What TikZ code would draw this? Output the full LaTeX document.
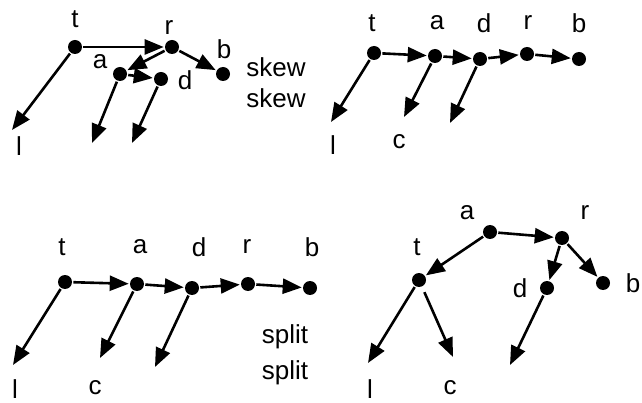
\documentclass[tikz,border=0pt]{standalone}
\usepackage{fontspec}
\setmainfont{Liberation Sans}
\usetikzlibrary{arrows.meta}
\tikzset{
    dot/.style={circle, fill=black, inner sep=0pt, minimum size=14pt},
    lbl/.style={inner sep=0pt, font=\fontsize{26}{30}\selectfont}
}
\begin{document}
\begin{tikzpicture}[x=1pt, y=-1pt, line width=2.6pt, >={Triangle[length=19pt,width=15pt]}]
        \useasboundingbox (0,0) rectangle (642,403);

        % skew (top left)
        \draw (75,47) node[dot](t1){};
        \draw (172,47) node[dot](r1){};
        \draw (120,74) node[dot](a1){};
        \draw (161,79) node[dot](d1){};
        \draw (223,74) node[dot](b1){};
        \draw (75,19) node[lbl](lt1){t};
        \draw (169,28) node[lbl](lr1){r};
        \draw (100,62) node[lbl](la1){a};
        \draw (185,80) node[lbl](ld1){d};
        \draw (224,49) node[lbl](lb1){b};
        \draw (19,146) node[lbl](ll1){l};
        \draw (276,67) node[lbl](sk1){skew};
        \draw (276,98) node[lbl](sk2){skew};
        \coordinate (e11) at (12,130);
        \coordinate (e12) at (92,143);
        \coordinate (e13) at (132,143);

        \draw[->] (t1) to (r1);
        \draw[->] (r1) to (a1);
        \draw[->] (a1) to (d1);
        \draw[->] (r1) to (b1);
        \draw[->] (t1) to (e11);
        \draw[->] (a1) to (e12);
        \draw[->] (d1) to (e13);

        % chain (top right)
        \draw (374,53) node[dot](t2){};
        \draw (435,56) node[dot](a2){};
        \draw (480,59) node[dot](d2){};
        \draw (527,54) node[dot](r2){};
        \draw (579,59) node[dot](b2){};
        \draw (372,23) node[lbl](lt2){t};
        \draw (437,23) node[lbl](la2){a};
        \draw (484,23) node[lbl](ld2){d};
        \draw (528,23) node[lbl](lr2){r};
        \draw (579,23) node[lbl](lb2){b};
        \draw (333,145) node[lbl](ll2){l};
        \draw (399,142) node[lbl](lc2){c};
        \coordinate (e21) at (331,122);
        \coordinate (e22) at (404,117);
        \coordinate (e23) at (450,123);

        \draw[->] (t2) to (a2);
        \draw[->] (a2) to (d2);
        \draw[->] (d2) to (r2);
        \draw[->] (r2) to (b2);
        \draw[->] (t2) to (e21);
        \draw[->] (a2) to (e22);
        \draw[->] (d2) to (e23);

        % split (bottom left)
        \draw (65,282) node[dot](t3){};
        \draw (137,284) node[dot](a3){};
        \draw (192,288) node[dot](d3){};
        \draw (248,284) node[dot](r3){};
        \draw (310,288) node[dot](b3){};
        \draw (62,247) node[lbl](lt3){t};
        \draw (140,247) node[lbl](la3){a};
        \draw (199,247) node[lbl](ld3){d};
        \draw (247,247) node[lbl](lr3){r};
        \draw (312,247) node[lbl](lb3){b};
        \draw (15,389) node[lbl](ll3){l};
        \draw (95,388) node[lbl](lc3){c};
        \draw (285,337) node[lbl](sp1){split};
        \draw (285,373) node[lbl](sp2){split};
        \coordinate (e31) at (13,365);
        \coordinate (e32) at (100,358);
        \coordinate (e33) at (155,367);

        \draw[->] (t3) to (a3);
        \draw[->] (a3) to (d3);
        \draw[->] (d3) to (r3);
        \draw[->] (r3) to (b3);
        \draw[->] (t3) to (e31);
        \draw[->] (a3) to (e32);
        \draw[->] (d3) to (e33);

        % tree (bottom right)
        \draw (490,232) node[dot](a4){};
        \draw (562,238) node[dot](r4){};
        \draw (419,280) node[dot](t4){};
        \draw (547,288) node[dot](d4){};
        \draw (603,283) node[dot](b4){};
        \draw (467,213) node[lbl](la4){a};
        \draw (585,213) node[lbl](lr4){r};
        \draw (417,247) node[lbl](lt4){t};
        \draw (520,288) node[lbl](ld4){d};
        \draw (633,283) node[lbl](lb4){b};
        \draw (370,389) node[lbl](ll4){l};
        \draw (450,388) node[lbl](lc4){c};
        \coordinate (e41) at (368,363);
        \coordinate (e42) at (453,357);
        \coordinate (e43) at (510,365);

        \draw[->] (a4) to (r4);
        \draw[->] (a4) to (t4);
        \draw[->] (r4) to (d4);
        \draw[->] (r4) to (b4);
        \draw[->] (t4) to (e41);
        \draw[->, shorten <=5pt] (t4) to (e42);
        \draw[->] (d4) to (e43);
    \end{tikzpicture}
\end{document}
